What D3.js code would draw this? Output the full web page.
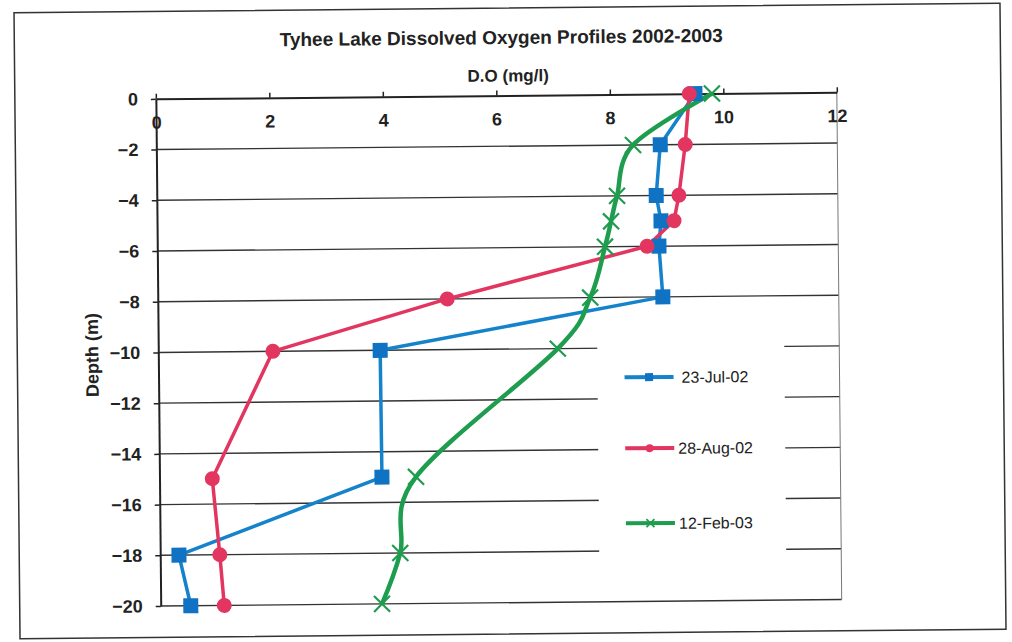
<!DOCTYPE html>
<html>
<head>
<meta charset="utf-8">
<script src="https://cdn.jsdelivr.net/npm/d3@7"></script>
<style>
  body { margin: 0; background: #fff; }
  text { font-family: "Liberation Sans", Arial, sans-serif; fill: #222; }
</style>
</head>
<body>
<div id="chart-area"></div>
<script>
// data
const depths = [0, -2, -4, -5, -6, -8, -10, -15, -18, -20];
const jul02 = [9.50, 8.88, 8.80, 8.88, 8.84, 8.90, 3.91, 3.92, 0.33, 0.53];
const aug02 = [9.40, 9.32, 9.20, 9.11, 8.63, 5.10, 2.02, 0.93, 1.05, 1.12];
const feb03 = [9.80, 8.40, 8.11, 8.00, 7.89, 7.62, 7.04, 4.52, 4.23, 3.90];
const seriesNames = ["23-Jul-02", "28-Aug-02", "12-Feb-03"];
const xTicks = [0, 2, 4, 6, 8, 10, 12];
const yTicks = [0, -2, -4, -6, -8, -10, -12, -14, -16, -18, -20];

const W = 1012, H = 642;
const margin = { top: 95.5, right: 173, bottom: 39.3, left: 158 };
const width = W - margin.left - margin.right;
const height = H - margin.top - margin.bottom;

const svg = d3.select("#chart-area").append("svg")
    .attr("width", W)
    .attr("height", H);

svg.append("rect").attr("width", W).attr("height", H).attr("fill", "#fff");

// the scan is tilted a little
const page = svg.append("g")
    .attr("transform", "rotate(-0.55, 506, 321)");

page.append("rect")
    .attr("x", 17).attr("y", 8)
    .attr("width", 986).attr("height", 626)
    .attr("fill", "none")
    .attr("stroke", "#333")
    .attr("stroke-width", 1.5);

page.append("text")
    .attr("x", 504).attr("y", 44)
    .attr("text-anchor", "middle")
    .attr("font-size", 19).attr("font-weight", "bold")
    .text("Tyhee Lake Dissolved Oxygen Profiles 2002-2003");

const g = page.append("g")
    .attr("transform", `translate(${margin.left}, ${margin.top})`);

const x = d3.scaleLinear().domain([0, 12]).range([0, width]);
const y = d3.scaleLinear().domain([0, -20]).range([0, height]);

// gridlines
g.append("g")
    .selectAll("line")
    .data(yTicks.slice(1))
    .enter().append("line")
    .attr("x1", 0).attr("x2", width)
    .attr("y1", d => y(d)).attr("y2", d => y(d))
    .attr("stroke", "#333")
    .attr("stroke-width", 1.4);

// right border
g.append("line")
    .attr("x1", width).attr("x2", width)
    .attr("y1", 0).attr("y2", height)
    .attr("stroke", "#777")
    .attr("stroke-width", 1);

const xAxisCall = d3.axisBottom(x)
    .tickValues(xTicks)
    .tickSizeInner(-5)
    .tickSizeOuter(0)
    .tickPadding(17);
const xAxis = g.append("g").attr("class", "x axis").call(xAxisCall);
xAxis.select(".domain").attr("stroke", "#222").attr("stroke-width", 2);
xAxis.selectAll("line").attr("stroke", "#222").attr("stroke-width", 1.5);
xAxis.selectAll("text")
    .attr("font-size", 18).attr("font-weight", "bold")
    .attr("font-family", "Liberation Sans, Arial, sans-serif")
    .attr("fill", "#222");

const yAxisCall = d3.axisLeft(y)
    .tickValues(yTicks)
    .tickSizeInner(5)
    .tickSizeOuter(0)
    .tickPadding(13);
const yAxis = g.append("g").attr("class", "y axis").call(yAxisCall);
yAxis.select(".domain").attr("stroke", "#222").attr("stroke-width", 2);
yAxis.selectAll("line").attr("stroke", "#222").attr("stroke-width", 1.5);
yAxis.selectAll("text")
    .attr("font-size", 18).attr("font-weight", "bold")
    .attr("font-family", "Liberation Sans, Arial, sans-serif")
    .attr("fill", "#222");

g.append("text")
    .attr("x", x(6) + 12)
    .attr("y", -14)
    .attr("text-anchor", "middle")
    .attr("font-size", 17).attr("font-weight", "bold")
    .text("D.O (mg/l)");

g.append("text")
    .attr("x", -(y(-10) + 2))
    .attr("y", -60)
    .attr("text-anchor", "middle")
    .attr("transform", "rotate(-90)")
    .attr("font-size", 18).attr("font-weight", "bold")
    .text("Depth (m)");

// legend box hides the gridlines behind it
const legend = g.append("g");
legend.append("rect")
    .attr("x", 439).attr("y", 243)
    .attr("width", 187).attr("height", 233)
    .attr("fill", "#fff");

const colors = ["#1583cc", "#e2355f", "#1f9d4f"];
const allSeries = [jul02, aug02, feb03].map((vals, i) =>
    vals.map((v, j) => ({ v: v, d: depths[j], s: i })));

const straight = d3.line().x(p => x(p.v)).y(p => y(p.d));
const smooth = d3.line().x(p => x(p.v)).y(p => y(p.d)).curve(d3.curveCatmullRom.alpha(0));

function marker(sel, s, size) {
    if (s === 0) {
        sel.append("rect")
            .attr("x", -size / 2).attr("y", -size / 2)
            .attr("width", size).attr("height", size)
            .attr("fill", "#0f72c2");
    } else if (s === 1) {
        sel.append("circle").attr("r", size / 2).attr("fill", colors[1]);
    } else {
        const h = size / 2;
        sel.append("path")
            .attr("d", `M${-h},${-h}L${h},${h}M${-h},${h}L${h},${-h}`)
            .attr("stroke", colors[2])
            .attr("stroke-width", size > 10 ? 2.2 : 1.8)
            .attr("fill", "none");
    }
}

allSeries.forEach((pts, i) => {
    g.append("path")
        .datum(pts)
        .attr("d", i === 2 ? smooth : straight)
        .attr("fill", "none")
        .attr("stroke", colors[i])
        .attr("stroke-width", i === 2 ? 4.5 : 3.5)
        .attr("stroke-linejoin", "round");
});

allSeries.forEach((pts, i) => {
    g.append("g").selectAll("g")
        .data(pts)
        .enter().append("g")
        .attr("transform", p => `translate(${x(p.v)}, ${y(p.d)})`)
        .each(function () { marker(d3.select(this), i, i === 2 ? 16 : 15); });
});

const legendY = [283, 354, 429];
seriesNames.forEach((name, i) => {
    const item = legend.append("g").attr("transform", `translate(466, ${legendY[i]})`);
    item.append("line")
        .attr("x1", 0).attr("x2", 49)
        .attr("stroke", colors[i])
        .attr("stroke-width", 4);
    const m = item.append("g").attr("transform", "translate(24.5, 0)");
    marker(m, i, 8);
    item.append("text")
        .attr("x", i === 0 ? 57 : 53)
        .attr("y", 6)
        .attr("font-size", 16)
        .text(name);
});
</script>
</body>
</html>
